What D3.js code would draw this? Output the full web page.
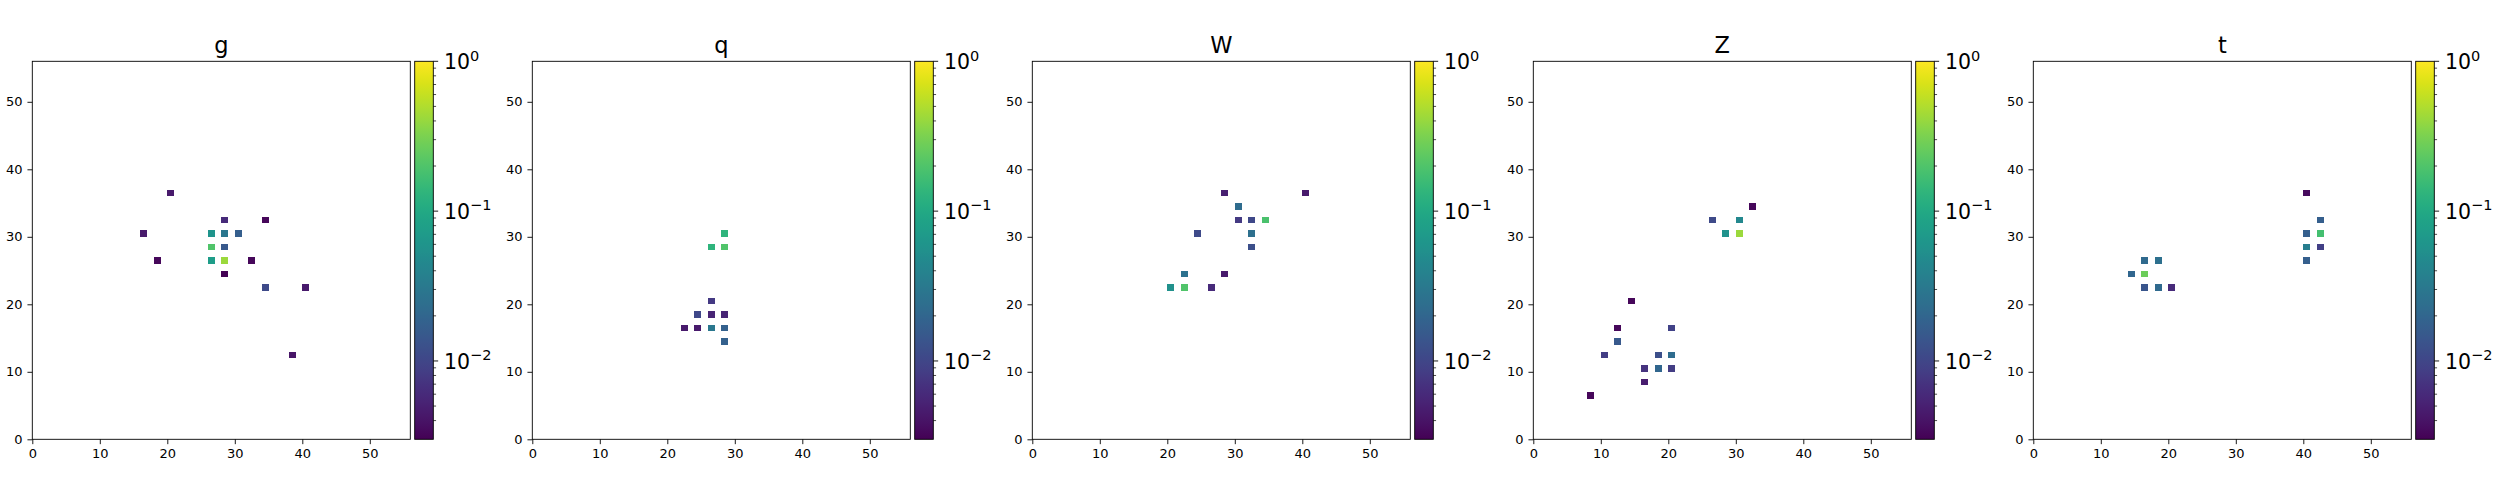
<!DOCTYPE html>
<html>
<head>
<meta charset="utf-8">
<script src="https://cdn.jsdelivr.net/npm/d3@7"></script>
<style>
  html, body { margin: 0; padding: 0; background: #fff; }
  svg { display: block; }
  text { font-family: "DejaVu Sans", sans-serif; fill: #000; }
</style>
</head>
<body>
<svg id="chart" width="2500" height="500"></svg>
<script>
// ---------------- data ----------------
const titles = ["g", "q", "W", "Z", "t"];
const xTicks = [0, 10, 20, 30, 40, 50];
const yTicks = [0, 10, 20, 30, 40, 50];
const gridExtent = [0, 56];
const colorDomain = [0.003, 1];
const colorMajorTicks = [1, 0.1, 0.01];
const colorMajorLabels = [["10", "0"], ["10", "\u22121"], ["10", "\u22122"]];

// cells: [column, row, value]
const cellsG = [
  [20, 36, 0.0045], [16, 30, 0.0045], [18, 26, 0.0033], [28, 32, 0.006],
  [34, 32, 0.0033], [26, 30, 0.06], [28, 30, 0.03], [30, 30, 0.017],
  [26, 28, 0.2], [28, 28, 0.015], [26, 26, 0.075], [28, 26, 0.42],
  [32, 26, 0.0033], [28, 24, 0.003], [34, 22, 0.011], [40, 22, 0.0045],
  [38, 12, 0.0042]
];
const cellsQ = [
  [28, 30, 0.13], [26, 28, 0.13], [28, 28, 0.2], [26, 20, 0.0078],
  [24, 18, 0.0105], [26, 18, 0.0054], [28, 18, 0.0055], [22, 16, 0.0045],
  [24, 16, 0.0045], [26, 16, 0.03], [28, 16, 0.018], [28, 14, 0.018]
];
const cellsW = [
  [28, 36, 0.005], [40, 36, 0.0045], [30, 34, 0.023], [30, 32, 0.008],
  [32, 32, 0.0105], [34, 32, 0.19], [24, 30, 0.011], [32, 30, 0.025],
  [32, 28, 0.012], [22, 24, 0.026], [28, 24, 0.0045], [20, 22, 0.055],
  [22, 22, 0.2], [26, 22, 0.006]
];
const cellsZ = [
  [32, 34, 0.0033], [26, 32, 0.011], [30, 32, 0.045], [28, 30, 0.058],
  [30, 30, 0.42], [14, 20, 0.0033], [12, 16, 0.0033], [20, 16, 0.0095],
  [12, 14, 0.015], [10, 12, 0.0085], [18, 12, 0.012], [20, 12, 0.023],
  [16, 10, 0.007], [18, 10, 0.02], [20, 10, 0.0085], [16, 8, 0.0048],
  [8, 6, 0.0033]
];
const cellsT = [
  [40, 36, 0.0035], [42, 32, 0.017], [40, 30, 0.017], [42, 30, 0.175],
  [40, 28, 0.035], [42, 28, 0.009], [40, 26, 0.017], [16, 26, 0.022],
  [18, 26, 0.025], [14, 24, 0.02], [16, 24, 0.27], [16, 22, 0.014],
  [18, 22, 0.022], [20, 22, 0.006]
];
const panelCells = [cellsG, cellsQ, cellsW, cellsZ, cellsT];

// ---------------- layout ----------------
const axesLeft = [32.3, 532.3, 1032.3, 1533.3, 2033.3];
const axesTop = 61.3;
const axesSize = 378;
const cbPad = 4.4;
const cbWidth = 18.6;
const majorLen = 4.86, minorLen = 2.78, tickPad = 4.86;

const svg = d3.select("#chart");
const color = d3.scaleSequentialLog(d3.interpolateViridis).domain(colorDomain);

// gradient for the colorbar
const defs = svg.append("defs");
const grad = defs.append("linearGradient").attr("id", "viridisGrad")
  .attr("x1", 0).attr("y1", 1).attr("x2", 0).attr("y2", 0);
d3.range(0, 1.0001, 0.02).forEach(t => {
  grad.append("stop").attr("offset", t).attr("stop-color", d3.interpolateViridis(t));
});

// minor ticks of the log colorbar
const minorTicks = [];
[0.001, 0.01, 0.1].forEach(dec => {
  for (let m = 2; m <= 9; m++) {
    const v = m * dec;
    if (v > colorDomain[0] * 1.001 && v < colorDomain[1]) minorTicks.push(v);
  }
});

titles.forEach((title, p) => {
  const left = axesLeft[p];
  const g = svg.append("g");
  const x = d3.scaleLinear().domain(gridExtent).range([left, left + axesSize]);
  const y = d3.scaleLinear().domain(gridExtent).range([axesTop + axesSize, axesTop]);

  // cells
  g.append("g").selectAll("rect").data(panelCells[p]).join("rect")
    .attr("x", d => x(d[0]))
    .attr("y", d => y(d[1] + 1))
    .attr("width", d => x(d[0] + 1) - x(d[0]))
    .attr("height", d => y(d[1]) - y(d[1] + 1))
    .attr("fill", d => color(d[2]))
    .attr("shape-rendering", "crispEdges");

  // axes frame
  g.append("rect")
    .attr("x", left).attr("y", axesTop)
    .attr("width", axesSize).attr("height", axesSize)
    .attr("fill", "none").attr("stroke", "#000").attr("stroke-width", 0.9);

  // x axis
  const xAxis = d3.axisBottom(x).tickValues(xTicks).tickSize(majorLen).tickPadding(tickPad)
    .tickFormat(d3.format("d"));
  const gx = g.append("g").attr("transform", `translate(0,${axesTop + axesSize})`).call(xAxis);
  gx.select(".domain").remove();
  gx.selectAll("line").attr("stroke", "#000").attr("stroke-width", 0.9);
  gx.selectAll("text").attr("font-size", "13px").attr("font-family", "DejaVu Sans").attr("fill", "#000");

  // y axis
  const yAxis = d3.axisLeft(y).tickValues(yTicks).tickSize(majorLen).tickPadding(tickPad)
    .tickFormat(d3.format("d"));
  const gy = g.append("g").attr("transform", `translate(${left},0)`).call(yAxis);
  gy.select(".domain").remove();
  gy.selectAll("line").attr("stroke", "#000").attr("stroke-width", 0.9);
  gy.selectAll("text").attr("font-size", "13px").attr("font-family", "DejaVu Sans").attr("fill", "#000");

  // title
  g.append("text")
    .attr("x", left + axesSize / 2).attr("y", axesTop - 8.3)
    .attr("text-anchor", "middle").attr("font-size", "22.5px")
    .text(title);

  // colorbar
  const cbLeft = left + axesSize + cbPad;
  const cy = d3.scaleLog().domain(colorDomain).range([axesTop + axesSize, axesTop]);
  g.append("rect")
    .attr("x", cbLeft).attr("y", axesTop)
    .attr("width", cbWidth).attr("height", axesSize)
    .attr("fill", "url(#viridisGrad)");
  g.append("rect")
    .attr("x", cbLeft).attr("y", axesTop)
    .attr("width", cbWidth).attr("height", axesSize)
    .attr("fill", "none").attr("stroke", "#000").attr("stroke-width", 0.9);

  const cbRight = cbLeft + cbWidth;
  g.append("g").selectAll("line.minor").data(minorTicks).join("line")
    .attr("x1", cbRight).attr("x2", cbRight + minorLen)
    .attr("y1", d => cy(d)).attr("y2", d => cy(d))
    .attr("stroke", "#000").attr("stroke-width", 0.7);
  g.append("g").selectAll("line.major").data(colorMajorTicks).join("line")
    .attr("x1", cbRight).attr("x2", cbRight + majorLen)
    .attr("y1", d => cy(d)).attr("y2", d => cy(d))
    .attr("stroke", "#000").attr("stroke-width", 0.9);

  const labs = g.append("g").selectAll("text").data(colorMajorTicks).join("text")
    .attr("x", cbRight + majorLen + tickPad + 1)
    .attr("y", d => cy(d) + 8)
    .attr("font-size", "20.5px");
  labs.append("tspan").text((d, i) => colorMajorLabels[i][0]);
  labs.append("tspan").attr("font-size", "14.5px").attr("dy", -8.8)
    .text((d, i) => colorMajorLabels[i][1]);
});
</script>
</body>
</html>
